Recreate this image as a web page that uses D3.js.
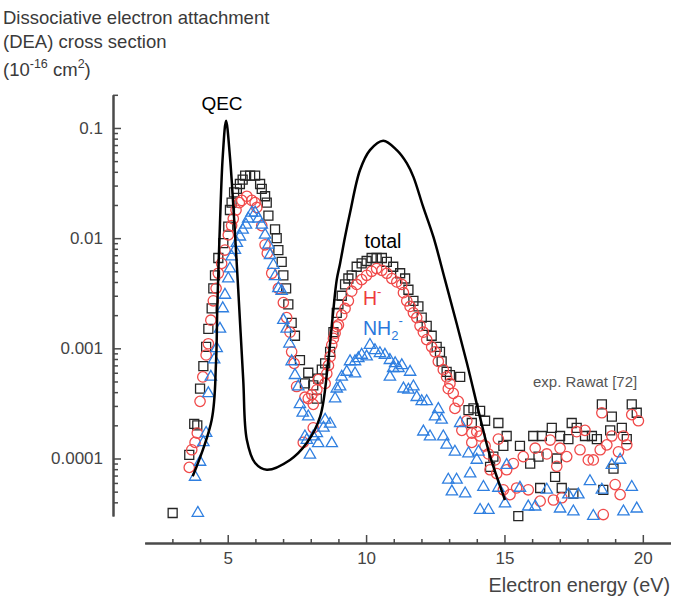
<!DOCTYPE html>
<html>
<head>
<meta charset="utf-8">
<script src="https://cdn.jsdelivr.net/npm/d3@7"></script>
<style>
  body { margin: 0; background: #fff; }
  svg { display: block; font-family: "Liberation Sans", Arial, Helvetica, sans-serif; }
</style>
</head>
<body>
<svg id="chart" width="682" height="599"></svg>
<script>
// Energy axis ticks (eV)
const xMajorTicks = [5, 10, 15, 20];
const xMinorTicks = [3, 4, 6, 7, 8, 9, 11, 12, 13, 14, 16, 17, 18, 19];
// Cross-section axis ticks (10^-16 cm^2)
const yMajorTicks = [1e-4, 1e-3, 1e-2, 1e-1];
const yMajorLabels = ["0.0001", "0.001", "0.01", "0.1"];
const yMinorTicks = [
  4e-5, 5e-5, 6e-5, 7e-5, 8e-5, 9e-5,
  2e-4, 3e-4, 4e-4, 5e-4, 6e-4, 7e-4, 8e-4, 9e-4,
  2e-3, 3e-3, 4e-3, 5e-3, 6e-3, 7e-3, 8e-3, 9e-3,
  2e-2, 3e-2, 4e-2, 5e-2, 6e-2, 7e-2, 8e-2, 9e-2,
  0.2
];

// QEC calculation: [energy (eV), cross section]
const qecCurve = [
  [3.735, 6.9e-5], [4.42, 2.24e-4], [4.577, 7.4e-4], [4.624, 2.39e-3],
  [4.72, 0.0136], [4.82, 0.055], [4.94, 0.116], [5.08, 0.055],
  [5.24, 0.0137], [5.38, 0.0034], [5.56, 5.2e-4], [5.69, 1.48e-4],
  [5.99, 9.1e-5], [6.41, 7.9e-5], [7.25, 9.7e-5], [7.855, 1.38e-4],
  [8.34, 2.4e-4], [8.625, 7.4e-4], [8.806, 2.1e-3], [8.94, 4.2e-3],
  [9.06, 5.9e-3], [9.24, 0.0103], [9.42, 0.017], [9.78, 0.0415],
  [10.14, 0.063], [10.62, 0.0767], [11.11, 0.063], [11.47, 0.048],
  [11.71, 0.036], [12.06, 0.0193], [12.43, 0.0103], [12.85, 0.0042],
  [13.64, 7.4e-4], [14.12, 2.35e-4], [14.48, 1.05e-4], [15.02, 4.2e-5]
];

// Measured total DEA cross section (squares)
const totalData = [
  [3.01, 3.2e-5], [3.61, 1.08e-4], [3.79, 2.06e-4], [3.90, 2.0e-4], [4.00, 4.3e-4],
  [4.12, 6.9e-4], [4.22, 1.03e-3], [4.30, 1.5e-3], [4.42, 2.3e-3], [4.48, 3.5e-3],
  [4.54, 4.6e-3], [4.66, 6.6e-3], [4.84, 9.0e-3], [5.02, 1.27e-2], [5.08, 1.8e-2],
  [5.14, 2.1e-2], [5.23, 2.6e-2], [5.33, 2.8e-2], [5.44, 3.1e-2], [5.54, 3.4e-2],
  [5.63, 3.7e-2], [5.81, 3.7e-2], [5.99, 3.7e-2], [6.17, 3.1e-2], [6.23, 2.8e-2],
  [6.35, 2.4e-2], [6.41, 2.1e-2], [6.47, 1.6e-2], [6.71, 1.2e-2], [6.77, 1.0e-2],
  [6.83, 7.8e-3], [6.95, 6.1e-3], [7.01, 4.6e-3], [7.11, 3.5e-3], [7.19, 2.5e-3],
  [7.31, 1.7e-3], [7.43, 1.3e-3], [7.61, 7.8e-4], [7.79, 4.8e-4], [7.91, 6.0e-4],
  [8.09, 4.6e-4], [8.22, 3.5e-4], [8.27, 5.3e-4], [8.40, 6.4e-4], [8.52, 7.3e-4],
  [8.70, 9.3e-4], [8.82, 1.4e-3], [8.94, 2.1e-3], [9.00, 2.5e-3], [9.12, 3.0e-3],
  [9.24, 3.8e-3], [9.36, 4.3e-3], [9.48, 4.6e-3], [9.66, 5.5e-3], [9.84, 5.9e-3],
  [10.02, 6.2e-3], [10.20, 6.6e-3], [10.38, 6.6e-3], [10.57, 6.6e-3], [10.75, 6.1e-3],
  [10.98, 5.5e-3], [11.23, 4.8e-3], [11.41, 4.3e-3], [11.53, 3.4e-3], [11.71, 2.7e-3],
  [11.89, 2.4e-3], [12.01, 1.9e-3], [12.19, 1.6e-3], [12.37, 1.3e-3], [12.55, 1.03e-3],
  [12.67, 9.3e-4], [12.73, 7.6e-4], [12.91, 6.1e-4], [13.03, 5.7e-4], [13.40, 5.5e-4],
  [13.70, 2.75e-4], [13.82, 2.1e-4], [13.88, 2.85e-4], [14.12, 2.7e-4], [14.30, 2.2e-4],
  [14.48, 8.4e-5], [14.60, 1.04e-4], [14.78, 2.1e-4], [14.96, 1.3e-4], [15.08, 1.6e-4],
  [15.50, 3.0e-5], [15.56, 1.3e-4], [15.93, 9.0e-5], [16.04, 1.6e-4], [16.23, 1.04e-4],
  [16.29, 5.4e-5], [16.35, 1.6e-4], [16.71, 1.9e-4], [16.83, 6.8e-5], [16.89, 1.0e-4],
  [17.01, 1.6e-4], [17.07, 5.4e-5], [17.31, 1.5e-4], [17.43, 2.1e-4], [17.49, 4.8e-5],
  [17.61, 1.9e-4], [17.91, 1.6e-4], [18.16, 1.6e-4], [18.34, 1.5e-4], [18.52, 3.1e-4],
  [18.57, 5.2e-5], [18.82, 1.8e-4], [18.88, 2.4e-4], [18.94, 8.1e-5], [19.24, 1.9e-4],
  [19.42, 1.5e-4], [19.60, 3.1e-4], [19.78, 2.6e-4]
];

// H- channel (circles)
const hMinusData = [
  [3.61, 8.3e-5], [3.70, 1.2e-4], [3.82, 1.4e-4], [3.90, 1.7e-4], [4.00, 3.3e-4],
  [4.10, 5.5e-4], [4.22, 8.7e-4], [4.30, 1.1e-3], [4.39, 1.8e-3], [4.48, 2.7e-3],
  [4.58, 3.5e-3], [4.66, 4.8e-3], [4.78, 5.9e-3], [4.90, 7.8e-3], [5.02, 1.07e-2],
  [5.14, 1.3e-2], [5.20, 1.5e-2], [5.30, 1.8e-2], [5.42, 2.1e-2], [5.51, 2.2e-2],
  [5.69, 2.4e-2], [5.87, 2.2e-2], [5.99, 2.1e-2], [6.05, 1.9e-2], [6.23, 1.3e-2],
  [6.35, 8.7e-3], [6.43, 7.3e-3], [6.59, 4.8e-3], [6.83, 3.5e-3], [7.01, 2.6e-3],
  [7.13, 1.9e-3], [7.25, 1.4e-3], [7.31, 9.3e-4], [7.40, 7.3e-4], [7.49, 4.5e-4],
  [7.73, 1.4e-4], [7.79, 3.6e-4], [7.91, 3.5e-4], [8.04, 3.8e-4], [8.09, 3.1e-4],
  [8.09, 1.9e-4], [8.22, 4.2e-4], [8.27, 5.2e-4], [8.52, 4.8e-4], [8.58, 5.9e-4],
  [8.64, 7.0e-4], [8.70, 8.4e-4], [8.76, 1.07e-3], [8.82, 1.23e-3], [8.88, 1.37e-3],
  [8.94, 1.57e-3], [9.00, 1.63e-3], [9.12, 2.0e-3], [9.24, 2.3e-3], [9.36, 2.7e-3],
  [9.48, 3.3e-3], [9.66, 3.8e-3], [9.84, 4.2e-3], [10.02, 4.6e-3], [10.20, 5.0e-3],
  [10.38, 5.3e-3], [10.57, 5.1e-3], [10.75, 4.8e-3], [10.93, 4.3e-3], [11.11, 4.0e-3],
  [11.29, 3.8e-3], [11.35, 3.2e-3], [11.47, 2.7e-3], [11.59, 2.4e-3], [11.71, 2.1e-3],
  [11.83, 1.9e-3], [11.95, 1.6e-3], [12.07, 1.4e-3], [12.19, 1.2e-3], [12.37, 1.03e-3],
  [12.49, 9.3e-4], [12.61, 7.6e-4], [12.79, 6.4e-4], [12.91, 5.5e-4], [12.97, 4.3e-4],
  [13.03, 4.8e-4], [13.15, 3.9e-4], [13.21, 2.85e-4], [13.33, 3.3e-4], [13.46, 1.8e-4],
  [13.64, 2.2e-4], [13.82, 1.7e-4], [13.82, 1.4e-4], [14.00, 1.75e-4], [14.12, 1.6e-4],
  [14.30, 1.3e-4], [14.42, 1.1e-4], [14.48, 7.9e-5], [14.66, 9.7e-5], [14.72, 7.3e-5],
  [14.78, 1.5e-4], [14.96, 5.2e-5], [15.08, 7.9e-5], [15.20, 4.7e-5], [15.32, 9.0e-5],
  [15.44, 5.4e-5], [15.68, 1.04e-4], [15.86, 5.2e-5], [16.11, 1.24e-4], [16.29, 4.1e-5],
  [16.53, 1.1e-4], [16.65, 1.47e-4], [16.77, 4.2e-5], [16.89, 8.5e-5], [17.01, 1.24e-4],
  [17.07, 4.4e-5], [17.25, 1.04e-4], [17.61, 1.75e-4], [17.73, 1.2e-4], [17.91, 1.8e-4],
  [18.03, 9.7e-5], [18.21, 9.7e-5], [18.46, 1.2e-4], [18.52, 2.6e-4], [18.57, 3.1e-5],
  [18.70, 1.33e-4], [18.88, 1.6e-4], [19.00, 5.8e-5], [19.12, 1.15e-4], [19.18, 4.7e-5],
  [19.30, 1.6e-4], [19.42, 1.33e-4], [19.60, 2.5e-4], [19.84, 2.2e-4]
];

// NH2- channel (triangles)
const nh2MinusData = [
  [3.82, 6.8e-5], [3.92, 3.2e-5], [4.00, 9.3e-5], [4.12, 1.4e-4], [4.22, 1.7e-4],
  [4.30, 3.9e-4], [4.39, 5.5e-4], [4.51, 7.9e-4], [4.60, 1.0e-3], [4.72, 1.5e-3],
  [4.82, 2.3e-3], [4.90, 3.05e-3], [5.02, 4.3e-3], [5.08, 5.3e-3], [5.14, 6.8e-3],
  [5.26, 7.8e-3], [5.33, 9.0e-3], [5.44, 1.03e-2], [5.54, 1.19e-2], [5.66, 1.32e-2],
  [5.74, 1.5e-2], [5.87, 1.7e-2], [5.99, 1.7e-2], [6.11, 1.5e-2], [6.23, 1.32e-2],
  [6.35, 1.07e-2], [6.47, 8.7e-3], [6.53, 7.0e-3], [6.65, 5.7e-3], [6.71, 4.5e-3],
  [6.83, 3.5e-3], [6.95, 3.3e-3], [7.01, 1.8e-3], [7.13, 1.5e-3], [7.23, 1.1e-3],
  [7.31, 7.6e-4], [7.43, 5.7e-4], [7.55, 4.5e-4], [7.61, 3.1e-4], [7.71, 2.6e-4],
  [7.79, 1.58e-4], [7.86, 1.47e-4], [7.91, 2.4e-4], [7.97, 1.08e-4], [8.09, 1.58e-4],
  [8.22, 1.69e-4], [8.27, 1.37e-4], [8.46, 1.9e-4], [8.52, 2.24e-4], [8.70, 2.06e-4],
  [8.76, 1.37e-4], [8.88, 3.5e-4], [8.94, 4.3e-4], [9.06, 4.5e-4], [9.12, 5.5e-4],
  [9.30, 6.1e-4], [9.42, 7.6e-4], [9.60, 7.6e-4], [9.60, 5.9e-4], [9.72, 8.1e-4],
  [9.84, 8.7e-4], [10.02, 8.4e-4], [10.14, 1.07e-3], [10.32, 9.6e-4], [10.50, 9.0e-4],
  [10.68, 8.7e-4], [10.86, 7.8e-4], [10.86, 5.5e-4], [10.98, 6.6e-4], [11.05, 7.3e-4],
  [11.17, 6.6e-4], [11.29, 7.0e-4], [11.35, 4.3e-4], [11.53, 4.2e-4], [11.59, 6.1e-4],
  [11.71, 4.5e-4], [11.83, 3.6e-4], [12.01, 3.3e-4], [12.07, 1.75e-4], [12.19, 3.3e-4],
  [12.31, 1.58e-4], [12.49, 2.4e-4], [12.61, 2.8e-4], [12.73, 2.24e-4], [12.79, 1.58e-4],
  [12.91, 1.33e-4], [12.97, 6.4e-5], [13.10, 5.0e-5], [13.21, 1.15e-4], [13.27, 6.4e-5],
  [13.40, 2.09e-4], [13.58, 4.8e-5], [13.70, 1.11e-4], [13.76, 7.3e-5], [14.00, 9.7e-5],
  [14.06, 1.15e-4], [14.12, 3.4e-5], [14.24, 5.5e-5], [14.42, 3.4e-5], [14.78, 5.4e-5],
  [15.02, 3.9e-5], [15.08, 8.7e-5], [15.56, 5.4e-5], [15.86, 3.65e-5], [16.11, 3.65e-5],
  [16.53, 5.2e-5], [17.01, 3.5e-5], [17.31, 4.7e-5], [17.49, 3.3e-5], [17.67, 4.7e-5],
  [18.09, 6.2e-5], [18.21, 3.0e-5], [18.52, 5.2e-5], [18.88, 8.7e-5], [19.18, 9.7e-5],
  [19.30, 3.3e-5], [19.60, 5.5e-5], [19.78, 3.5e-5]
];

const svg = d3.select("#chart");
const axisColor = "#4a4a4a";
const textColor = "#444";

const x = d3.scaleLinear().domain([2, 21]).range([144.7, 670.5]);
const y = d3.scaleLog().domain([3e-5, 0.2]).range([516.1, 94.8]);

// ---- Y axis (log) ----
const yAxisX = 113;
const gyMinor = svg.append("g").attr("transform", `translate(${yAxisX},0)`)
  .call(d3.axisLeft(y).tickValues(yMinorTicks).tickFormat("").tickSizeInner(-5).tickSizeOuter(0));
const gyMajor = svg.append("g").attr("transform", `translate(${yAxisX},0)`)
  .call(d3.axisLeft(y).tickValues(yMajorTicks)
    .tickFormat((d, i) => yMajorLabels[i]).tickSizeInner(-8).tickSizeOuter(0).tickPadding(10));

// ---- X axis ----
const xAxisY = 543;
const gxMinor = svg.append("g").attr("transform", `translate(0,${xAxisY})`)
  .call(d3.axisBottom(x).tickValues(xMinorTicks).tickFormat("").tickSizeInner(-4).tickSizeOuter(0));
const gxMajor = svg.append("g").attr("transform", `translate(0,${xAxisY})`)
  .call(d3.axisBottom(x).tickValues(xMajorTicks).tickFormat(d3.format("d"))
    .tickSizeInner(-8).tickSizeOuter(0).tickPadding(9));

[gyMinor, gyMajor, gxMinor, gxMajor].forEach(g => {
  g.attr("font-family", null).attr("font-size", null);
  g.select(".domain").attr("stroke", axisColor).attr("stroke-width", 2);
  g.selectAll(".tick line").attr("stroke", axisColor).attr("stroke-width", 1.5);
  g.selectAll(".tick text").attr("fill", textColor).attr("font-size", 17);
});

// ---- Data markers ----
const plot = svg.append("g");

const squareSym = d3.symbol().type(d3.symbolSquare).size(81);
plot.append("g").selectAll("path").data(totalData).join("path")
  .attr("d", squareSym)
  .attr("transform", d => `translate(${x(d[0])},${y(d[1])})`)
  .attr("fill", "none").attr("stroke", "#262626").attr("stroke-width", 1.3);

plot.append("g").selectAll("circle").data(hMinusData).join("circle")
  .attr("cx", d => x(d[0])).attr("cy", d => y(d[1])).attr("r", 5.2)
  .attr("fill", "none").attr("stroke", "#f04a4a").attr("stroke-width", 1.3);

const triSym = d3.symbol().type(d3.symbolTriangle).size(56);
plot.append("g").selectAll("path").data(nh2MinusData).join("path")
  .attr("d", triSym)
  .attr("transform", d => `translate(${x(d[0])},${y(d[1])})`)
  .attr("fill", "none").attr("stroke", "#2f7fe0").attr("stroke-width", 1.3);

// ---- QEC curve ----
const line = d3.line().x(d => x(d[0])).y(d => y(d[1])).curve(d3.curveCatmullRom.alpha(0.5));
plot.append("path").datum(qecCurve)
  .attr("d", line).attr("fill", "none").attr("stroke", "#000").attr("stroke-width", 2.5)
  .attr("stroke-linejoin", "round");

// ---- Titles ----
const title = svg.append("g").attr("fill", "#3a3a3a").attr("font-size", 18.5);
title.append("text").attr("x", 3).attr("y", 24).text("Dissociative electron attachment");
title.append("text").attr("x", 3).attr("y", 48).text("(DEA) cross section");
const unit = title.append("text").attr("x", 3).attr("y", 76);
unit.append("tspan").text("(10");
unit.append("tspan").attr("font-size", 12.5).attr("dy", -8).text("-16");
unit.append("tspan").attr("dy", 8).text(" cm");
unit.append("tspan").attr("font-size", 12.5).attr("dy", -8).text("2");
unit.append("tspan").attr("dy", 8).text(")");

svg.append("text").attr("x", 670).attr("y", 592).attr("text-anchor", "end")
  .attr("fill", textColor).attr("font-size", 19.8).text("Electron energy (eV)");

// ---- Annotations ----
svg.append("text").attr("x", 222).attr("y", 110).attr("text-anchor", "middle")
  .attr("font-size", 19).attr("fill", "#000").text("QEC");
svg.append("text").attr("x", 383).attr("y", 248).attr("text-anchor", "middle")
  .attr("font-size", 19.5).attr("fill", "#000").text("total");

const hLab = svg.append("text").attr("x", 363).attr("y", 305).attr("font-size", 19.5).attr("fill", "#ee3b3b");
hLab.append("tspan").text("H");
hLab.append("tspan").attr("font-size", 13).attr("dy", -9).text("-");

const nLab = svg.append("text").attr("x", 363).attr("y", 335).attr("font-size", 19.5).attr("fill", "#2a78dc");
nLab.append("tspan").text("NH");
nLab.append("tspan").attr("font-size", 13).attr("dy", 5).text("2");
nLab.append("tspan").attr("font-size", 13).attr("dy", -15).text("-");

svg.append("text").attr("x", 533).attr("y", 387).attr("font-size", 15).attr("fill", "#555")
  .text("exp. Rawat [72]");
</script>
</body>
</html>
